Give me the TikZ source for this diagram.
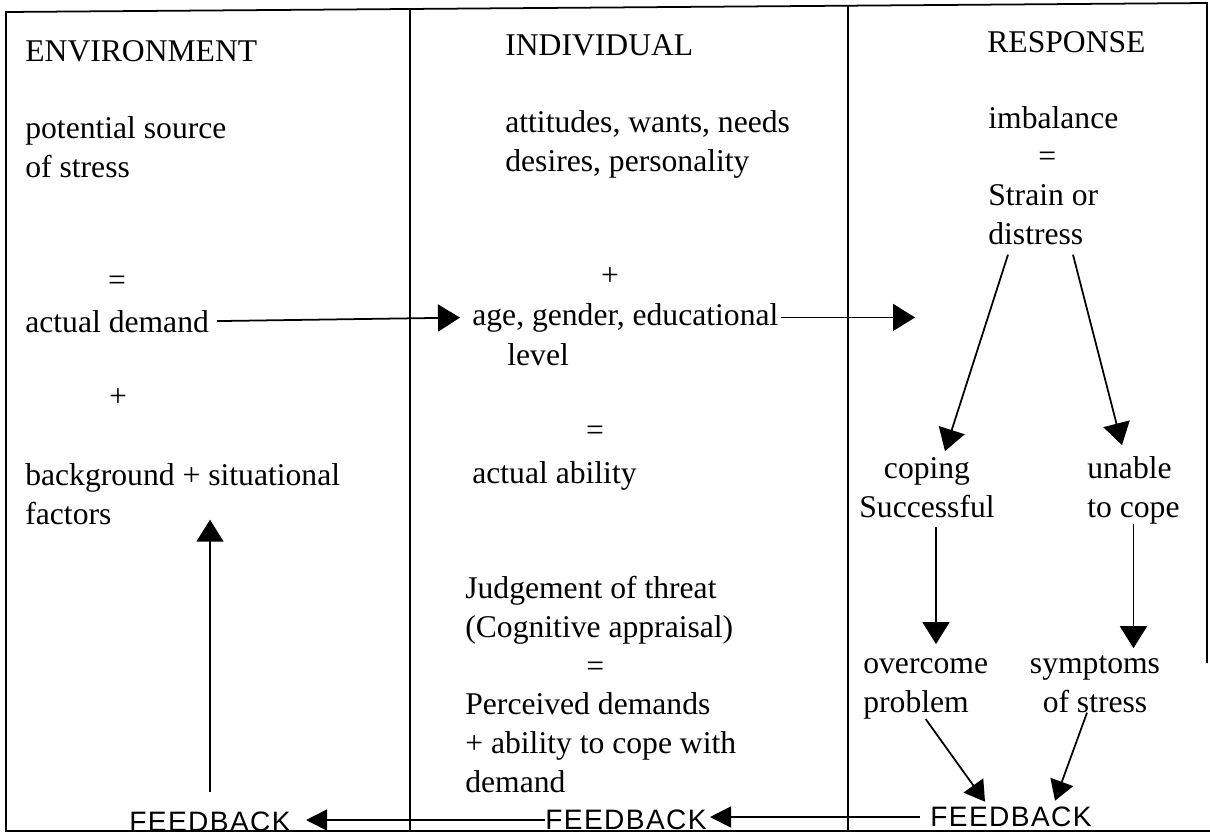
\documentclass[tikz,border=0pt]{standalone}
\usepackage{fontspec}
\setmainfont{Liberation Serif}
\newfontfamily\handfont[LetterSpace=5]{Liberation Sans}
\usetikzlibrary{arrows.meta}
\tikzset{
  txt/.style={inner sep=0pt, font=\fontsize{18}{22}\selectfont, align=left},
  fb/.style={inner sep=0pt, font=\handfont\fontsize{16}{18}\selectfont},
  arr/.style={line width=1pt, -{Triangle[length=0.44cm,width=0.54cm]}},
  frame/.style={line width=1pt}
}
\begin{document}
\begin{tikzpicture}[x=0.02cm, y=-0.02cm]
\useasboundingbox (0,0) rectangle (1210,836);
% frame and columns
\draw[frame] (1207,663) -- (1207,3) -- (6,12) -- (6,831) -- (1210,831);
\draw[frame] (410,9) -- (410,831);
\draw[frame] (848,6) -- (848,831);
% environment (multi-line nodes sit on the baseline of their last line)
\node[txt, anchor=base west] (envhead) at (25,61) {ENVIRONMENT};
\node[txt, anchor=base west] (source) at (25,177) {potential source\\of stress};
\node[txt] (enveq) at (117,283) {=};
\node[txt, anchor=base west] (demand) at (25,332) {actual demand};
\node[txt] (envplus) at (118,398) {+};
\node[txt, anchor=base west] (background) at (25,524) {background + situational\\factors};
% individual
\node[txt, anchor=base west] (indhead) at (505,55) {INDIVIDUAL};
\node[txt, anchor=base west] (attitudes) at (505,171) {attitudes, wants, needs\\desires, personality};
\node[txt] (indplus) at (610,277) {+};
\node[txt, anchor=base west] (age) at (472,325) {age, gender, educational};
\node[txt, anchor=base west] (level) at (507,365) {level};
\node[txt] (indeq) at (595,433) {=};
\node[txt, anchor=base west] (ability) at (472,483) {actual ability};
\node[txt, anchor=base west] (judgement) at (465,792) {Judgement of threat\\(Cognitive appraisal)\\\hspace*{2.42cm}=\\Perceived demands\\+ ability to cope with\\demand};
% response
\node[txt, anchor=base west] (reshead) at (987,52) {RESPONSE};
\node[txt, anchor=base west] (strain) at (988,244) {imbalance\\\hspace*{1cm}=\\Strain or\\distress};
\node[txt, align=center, anchor=base] (coping) at (927,517) {coping\\Successful};
\node[txt, anchor=base west] (unable) at (1087,517) {unable\\to cope};
\node[txt, anchor=base west] (overcome) at (863,712) {overcome\\problem};
\node[txt, align=center, anchor=base] (symptoms) at (1095,712) {symptoms\\of stress};
\coordinate (resin) at (915,316);
% feedback
\node[fb] (fbL) at (210,822) {FEEDBACK};
\node[fb] (fbM) at (626,820) {FEEDBACK};
\node[fb] (fbR) at (1011,817) {FEEDBACK};
% arrows
\draw[arr, shorten <=0.16cm, shorten >=0.24cm] (demand.east) -- (age.west);
\draw[arr, shorten <=0.04cm] (age.east) -- (age.east -| resin);
\draw[arr] ([xshift=0.4cm,yshift=-0.2cm]strain.south west) -- ([xshift=0.36cm,yshift=0.12cm]coping.north);
\draw[arr] ([xshift=1.7cm,yshift=-0.2cm]strain.south west) -- ([xshift=0.7cm,yshift=0.22cm]unable.north west);
\draw[arr, shorten >=0.28cm] ([xshift=0.18cm,yshift=-0.18cm]coping.south) -- ([xshift=0.18cm]coping.south |- overcome.north);
\draw[arr, shorten >=0.14cm] (unable.south) -- (unable.south |- symptoms.north);
\draw[arr, -{Triangle[length=0.4cm,width=0.48cm]}] (overcome.south) -- ([xshift=-0.52cm,yshift=0.1cm]fbR.north);
\draw[arr, -{Triangle[length=0.4cm,width=0.48cm]}] ([xshift=-0.16cm]symptoms.south) -- ([xshift=0.88cm,yshift=0.12cm]fbR.north);
\draw[arr, -{Triangle[length=0.42cm,width=0.42cm]}, shorten <=0.2cm, shorten >=0.06cm] (fbR.west) -- (fbR.west -| fbM.east);
\draw[arr, -{Triangle[length=0.42cm,width=0.42cm]}, shorten >=0.3cm] (fbM.west) -- (fbM.west -| fbL.east);
\draw[arr] ([yshift=0.4cm]fbL.north) -- ([yshift=0.1cm]fbL.north |- background.south);
\end{tikzpicture}
\end{document}
